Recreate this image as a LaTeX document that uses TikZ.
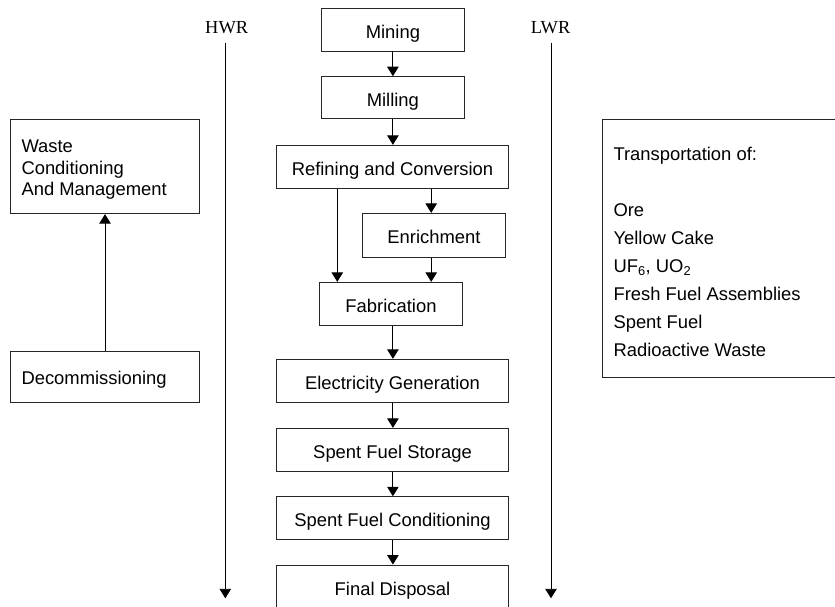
\documentclass[tikz,border=0pt]{standalone}
\usepackage{fontspec}
\setmainfont{Liberation Sans}
\newfontfamily\seriffont{Liberation Serif}
\usetikzlibrary{arrows.meta}
\begin{document}
\begin{tikzpicture}[x=1pt,y=-1pt,
  box/.style={draw=black!85, line width=0.9pt, inner sep=0pt,
    font=\fontsize{18.4}{21.7}\selectfont, text height=17pt, text depth=0pt},
  plain/.style={inner sep=0pt, font=\fontsize{18.4}{21.7}\selectfont, align=left},
  lbl/.style={inner sep=0pt, font=\seriffont\fontsize{18.4}{21.7}\selectfont},
  arr/.style={-{Triangle[width=11.5pt,length=9.5pt]}, line width=0.9pt},
]
\useasboundingbox (0,0) rectangle (835,607);

% central chain
\node[box, minimum width=142.6pt, minimum height=42.7pt] (mining) at (392.9,29.7) {Mining};
\node[box, minimum width=142.6pt, minimum height=42.3pt] (milling) at (392.9,97.8) {Milling};
\node[box, minimum width=231.6pt, minimum height=43pt] (refining) at (392.5,166.8) {Refining and Conversion};
\node[box, minimum width=143.4pt, minimum height=43.7pt] (enrich) at (434,235.2) {Enrichment};
\node[box, minimum width=143.4pt, minimum height=43.4pt] (fab) at (391,304) {Fabrication};
\node[box, minimum width=231.6pt, minimum height=43pt] (elec) at (392.5,380.8) {Electricity Generation};
\node[box, minimum width=231.6pt, minimum height=42.7pt] (sfs) at (392.5,449.7) {Spent Fuel Storage};
\node[box, minimum width=231.6pt, minimum height=43pt] (sfc) at (392.5,518.2) {Spent Fuel Conditioning};
\node[box, minimum width=231.6pt, minimum height=45pt] (final) at (392.5,587.5) {};
\node[plain, anchor=base] (finaltext) at (392.5,595) {Final Disposal};

% left side
\node[box, minimum width=188.6pt, minimum height=94.4pt] (waste) at (105,166.5) {};
\node[plain, anchor=north west, font=\fontsize{18.4}{21.7}\selectfont] (wastetext) at (21.3,139.5)
  {Waste\\Conditioning\\And Management};
\node[box, minimum width=188.6pt, minimum height=51.3pt] (decom) at (105,376.7) {};
\node[plain, anchor=base west] (decomtext) at (21.3,384.3) {Decommissioning};

% right side
\node[box, anchor=north west, minimum width=245pt, minimum height=257.4pt] (transport) at (602.3,119.3) {};
\node[plain, anchor=north west, font=\fontsize{18.4}{28}\selectfont] (translist) at (613.3,146.5)
  {Transportation of:\\[28pt]Ore\\Yellow Cake\\UF\textsubscript{6}, UO\textsubscript{2}\\Fresh Fuel Assemblies\\Spent Fuel\\Radioactive Waste};

% reactor type lines
\node[lbl, anchor=base] (hwr) at (226.7,33.3) {HWR};
\node[lbl, anchor=base] (lwr) at (550.5,33.3) {LWR};
\coordinate (hwrtop) at (225.3,42.7);
\coordinate (hwrbot) at (225.3,598.3);
\coordinate (lwrtop) at (551,42.7);
\coordinate (lwrbot) at (551,598.3);
\draw[arr] (hwrtop) -- (hwrbot);
\draw[arr] (lwrtop) -- (lwrbot);

% connectors
\coordinate (xl) at (337.3,0);
\coordinate (xr) at (431.2,0);
\draw[arr] (mining.south) -- (milling.north);
\draw[arr] (milling.south) -- (refining.north -| milling.south);
\draw[arr] (refining.south -| xr) -- (enrich.north -| xr);
\draw[arr] (refining.south -| xl) -- (fab.north -| xl);
\draw[arr] (enrich.south -| xr) -- (fab.north -| xr);
\draw[arr] (fab.south -| mining.south) -- (elec.north -| mining.south);
\draw[arr] (elec.south -| mining.south) -- (sfs.north -| mining.south);
\draw[arr] (sfs.south -| mining.south) -- (sfc.north -| mining.south);
\draw[arr] (sfc.south -| mining.south) -- (final.north -| mining.south);
\draw[arr] (decom.north) -- (waste.south);
\end{tikzpicture}
\end{document}
